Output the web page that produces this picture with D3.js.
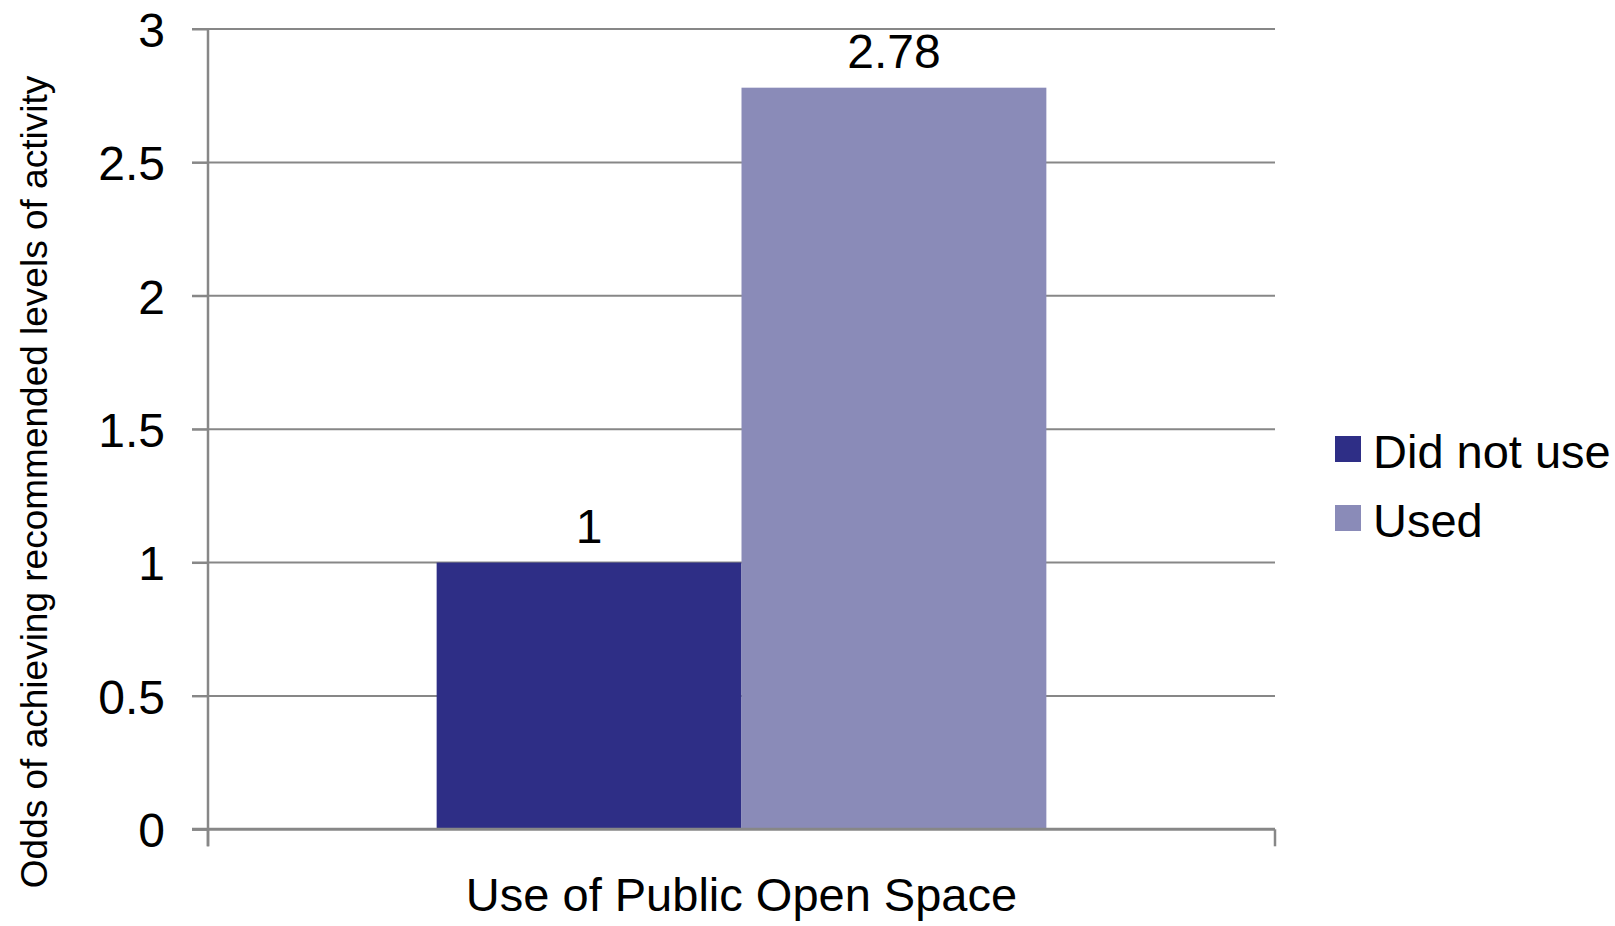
<!DOCTYPE html>
<html>
<head>
<meta charset="utf-8">
<script src="https://cdn.jsdelivr.net/npm/d3@7/dist/d3.min.js"></script>
<style>
  html, body { margin: 0; padding: 0; background: #fff; }
  svg { display: block; font-family: "Liberation Sans", Arial, sans-serif; }
</style>
</head>
<body>
<svg id="chart" width="1615" height="926"></svg>
<script>
// Odds of achieving recommended activity levels by use of public open space
const categories = ["Use of Public Open Space"];
const seriesNames = ["Did not use", "Used"];
const seriesValues = [1, 2.78];
const seriesColors = ["#2e2e86", "#8a8bb8"];
const yTicks = [0, 0.5, 1, 1.5, 2, 2.5, 3];
const yTickLabels = ["0", "0.5", "1", "1.5", "2", "2.5", "3"];
const yTitle = "Odds of achieving recommended levels of activity";

const svg = d3.select("#chart");
const plot = { left: 208, right: 1275, top: 29, bottom: 829.3 };
const gridColor = "#878787";

const y = d3.scaleLinear().domain([0, 3]).range([plot.bottom, plot.top]);
const x0 = d3.scaleBand().domain(categories).range([plot.left, plot.right]).padding(0);
const x1 = d3.scaleBand().domain(seriesNames).range([0, x0.bandwidth()])
  .paddingInner(0).paddingOuter(0.75);

// horizontal gridlines with outer tick marks on the left
svg.append("g").selectAll("line.grid").data(yTicks.filter(d => d > 0)).join("line")
  .attr("x1", plot.left - 16).attr("x2", plot.right)
  .attr("y1", d => y(d)).attr("y2", d => y(d))
  .attr("stroke", gridColor).attr("stroke-width", 2);

// bars
const g = svg.append("g");
categories.forEach(cat => {
  g.selectAll("rect").data(seriesNames.map((s, i) => ({ s, v: seriesValues[i], c: seriesColors[i] })))
    .join("rect")
    .attr("x", d => x0(cat) + x1(d.s))
    .attr("width", x1.bandwidth())
    .attr("y", d => y(d.v))
    .attr("height", d => y(0) - y(d.v))
    .attr("fill", d => d.c);

  g.selectAll("text.val").data(seriesNames.map((s, i) => ({ s, v: seriesValues[i] })))
    .join("text").attr("class", "val")
    .attr("x", d => x0(cat) + x1(d.s) + x1.bandwidth() / 2)
    .attr("y", d => y(d.v) - 20)
    .attr("text-anchor", "middle")
    .attr("font-size", 48)
    .attr("fill", "#000")
    .text(d => d.v);
});

// y axis
const yAxis = d3.axisLeft(y).tickValues(yTicks).tickSize(16)
  .tickFormat((d, i) => yTickLabels[i]).tickPadding(27);
const ya = svg.append("g").attr("transform", `translate(${plot.left},0)`).call(yAxis);
ya.select(".domain").remove();
ya.selectAll(".tick line").attr("stroke", gridColor).attr("stroke-width", 2);
ya.selectAll(".tick text").attr("font-size", 48).attr("fill", "#000")
  .attr("font-family", "Liberation Sans, Arial, sans-serif").attr("dy", "0.36em");
svg.append("line").attr("x1", plot.left).attr("x2", plot.left)
  .attr("y1", plot.top).attr("y2", plot.bottom + 17)
  .attr("stroke", gridColor).attr("stroke-width", 2.5);

// x axis: baseline with tick marks at the category edges
const xa = svg.append("g");
xa.append("line").attr("x1", plot.left - 16).attr("x2", plot.right)
  .attr("y1", y(0)).attr("y2", y(0)).attr("stroke", gridColor).attr("stroke-width", 3);
xa.selectAll("line.edge").data([plot.left, plot.right]).join("line")
  .attr("x1", d => d).attr("x2", d => d)
  .attr("y1", y(0)).attr("y2", y(0) + 17)
  .attr("stroke", gridColor).attr("stroke-width", 2.5);
xa.selectAll("text.cat").data(categories).join("text")
  .attr("x", d => x0(d) + x0.bandwidth() / 2)
  .attr("y", 911)
  .attr("text-anchor", "middle").attr("font-size", 47).attr("fill", "#000")
  .text(d => d);

// y axis title
svg.append("text")
  .attr("transform", "translate(47,482) rotate(-90)")
  .attr("text-anchor", "middle").attr("font-size", 37).attr("fill", "#000")
  .text(yTitle);

// legend
const lg = svg.append("g").attr("transform", "translate(1335,436)");
const items = lg.selectAll("g").data(seriesNames).join("g")
  .attr("transform", (d, i) => `translate(0,${i * 69})`);
items.append("rect").attr("width", 26).attr("height", 26)
  .attr("fill", (d, i) => seriesColors[i]);
items.append("text").attr("x", 38).attr("y", 32)
  .attr("font-size", 47).attr("fill", "#000").text(d => d);
</script>
</body>
</html>
